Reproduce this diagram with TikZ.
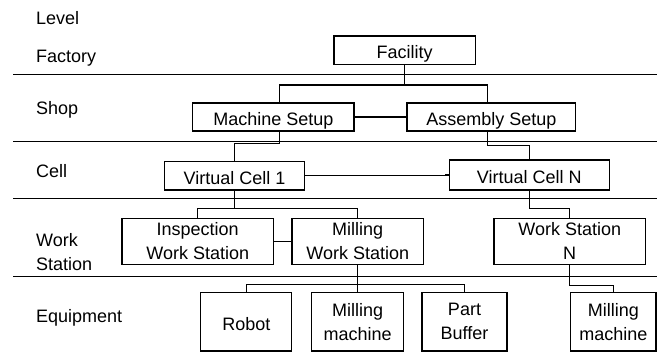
\documentclass[tikz,border=0pt]{standalone}
\usepackage{fontspec}
\setmainfont{Liberation Sans}
\begin{document}
\begin{tikzpicture}[x=1pt,y=-1pt,
  every node/.style={font=\fontsize{18}{24}\selectfont, inner sep=0pt},
  box/.style={draw, line width=1.2pt, align=center},
  one/.style={text height=17pt, text depth=0pt},
  conn/.style={line width=1.2pt},
  rule/.style={line width=1.2pt},
  lvl/.style={anchor=base west}]
\useasboundingbox (0,0) rectangle (659,352);
% level labels
\node[lvl] (lLevel) at (36,24.3) {Level};
\node[lvl] (lFactory) at (36,63) {Factory};
\node[lvl] (lShop) at (36,115) {Shop};
\node[lvl] (lCell) at (36,177.5) {Cell};
\node[anchor=north west, align=left] (lWS) at (36,233.6) {Work\\Station};
\node[lvl] (lEquip) at (36,322.7) {Equipment};
% rules
\foreach \y in {74.7,141.3,198.3,276.7} \draw[rule] (13.3,\y) -- (656.7,\y);
% boxes
\node[box,one,minimum width=141.3,minimum height=28.3] (fac) at (404.7,50.2) {Facility};
\node[box,one,minimum width=161.3,minimum height=28] (ms) at (273.3,117) {Machine Setup};
\node[box,one,minimum width=168.7,minimum height=28] (as) at (491.3,117) {Assembly Setup};
\node[box,one,minimum width=140.4,minimum height=28.3] (vc1) at (234.5,175.8) {Virtual Cell 1};
\node[box,one,minimum width=160,minimum height=30] (vcn) at (529.3,175) {Virtual Cell N};
\node[box,minimum width=151.3,minimum height=46] (insp) at (197.7,241.3) {Inspection\\Work Station};
\node[box,minimum width=131.4,minimum height=46] (mws) at (357.7,241.3) {Milling\\Work Station};
\node[box,minimum width=151.3,minimum height=46] (wsn) at (569.7,241.3) {Work Station\\N};
\node[box,one,minimum width=91,minimum height=58.3] (rob) at (246.3,321.8) {Robot};
\node[box,minimum width=91.7,minimum height=58.3] (mm1) at (357.7,321.8) {Milling\\machine};
\node[box,minimum width=85,minimum height=58.3] (pb) at (464.5,321.8) {Part\\Buffer};
\node[box,minimum width=85.3,minimum height=58.3] (mm2) at (613.3,321.8) {Milling\\machine};
% connectors
\draw[conn] (fac.south) -- ++(0,20.1) coordinate (j1);
\draw[conn] (279.3,0 |- ms.north) |- (j1) -| (487.7,0 |- as.north);
\draw[conn] (ms.east) -- (as.west);
\draw[conn] (279.3,0 |- ms.south) -- (279.3,143.3) -| (vc1.north);
\draw[conn] (487.7,0 |- as.south) -- (487.7,145.3) -| (vcn.north);
\draw[conn] (vc1.east) -| (445.7,0 |- vcn.west) -- (vcn.west);
\draw[conn] (vc1.south) -- ++(0,17.7) coordinate (j3);
\draw[conn] (insp.north) |- (j3) -| (mws.north);
\draw[conn] (insp.east) -- (mws.west);
\draw[conn] (vcn.south) -- ++(0,17.7) -| (wsn.north);
\draw[conn] (mws.south) -- ++(0,20) coordinate (j5);
\draw[conn] (rob.north) |- (j5) -| (pb.north);
\draw[conn] (j5) -- (mm1.north);
\draw[conn] (wsn.south) -- ++(0,20.7) -| (mm2.north);
\end{tikzpicture}
\end{document}
